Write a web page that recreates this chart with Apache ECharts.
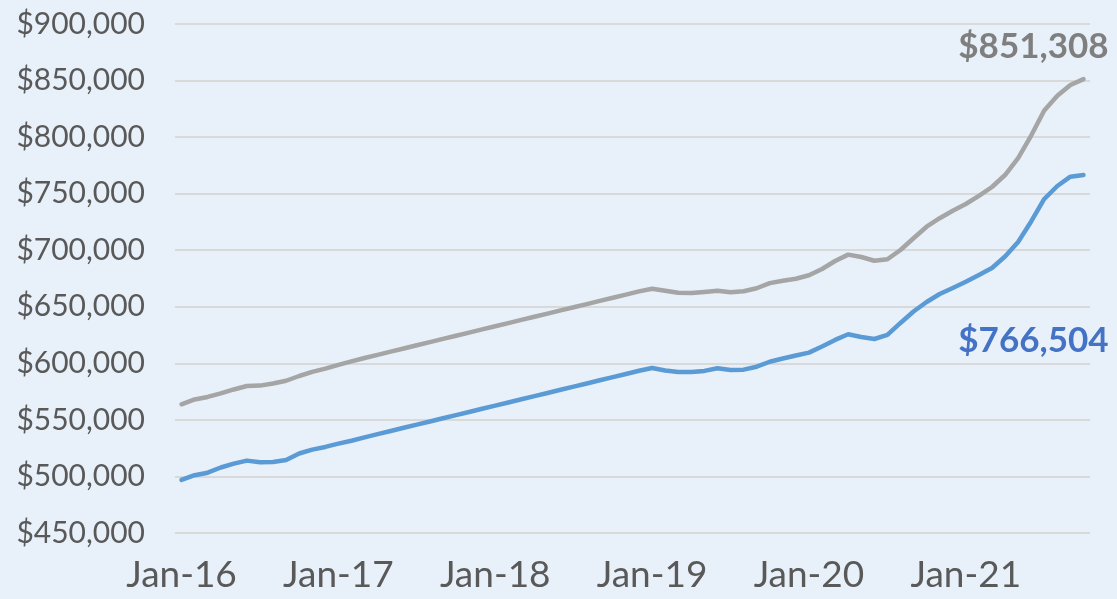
<!DOCTYPE html>
<html>
<head>
<meta charset="utf-8">
<title>Median price trend</title>
<script src="https://cdn.jsdelivr.net/npm/echarts@6/dist/echarts.min.js"></script>
<style>
  html, body { margin: 0; padding: 0; background: #E8F0F9; }
  #chart { width: 1117px; height: 599px; }
</style>
</head>
<body>
<div id="chart"></div>
<script>
// monthly categories, Jan-16 .. Oct-21
const monthNames = ['Jan', 'Feb', 'Mar', 'Apr', 'May', 'Jun', 'Jul', 'Aug', 'Sep', 'Oct', 'Nov', 'Dec']
const years = ['16', '17', '18', '19', '20', '21']
const lastMonthIndex = 9 // Oct-21

// grey series (upper line)
const greyValues = [
  563800, 568100, 570300, 573400, 576900, 580000, 580300, 582200, 584600, 588800, 592400, 595300,
  598600, 601700, 604700, 607500, 610300, 613100, 616000, 618800, 621600, 624400, 627200, 630000,
  632800, 635600, 638400, 641200, 644000, 646800, 649600, 652400, 655200, 658000, 660800, 663600,
  666000, 664100, 662400, 662200, 663100, 664200, 662800, 663700, 666400, 670900, 673000, 674800,
  677900, 683400, 690500, 696100, 694000, 690700, 692000, 700200, 710600, 720800, 728300, 734900,
  740900, 748000, 755900, 766500, 781500, 801400, 823500, 836500, 846100, 851308
]

// blue series (lower line)
const blueValues = [
  496900, 501100, 503300, 507900, 511300, 514000, 512500, 512800, 514600, 520300, 523700, 526100,
  529000, 531600, 534600, 537400, 540200, 543000, 545800, 548600, 551400, 554200, 557000, 559800,
  562600, 565400, 568200, 571000, 573800, 576600, 579400, 582200, 585000, 587800, 590600, 593400,
  595900, 593700, 592400, 592300, 593300, 595600, 594100, 594400, 597000, 601400, 604300, 606900,
  609500, 614900, 620700, 625700, 623300, 621500, 625100, 635700, 645800, 654200, 661300, 666600,
  672100, 678100, 684300, 694500, 707300, 725400, 745300, 756800, 765000, 766504
]

const categories = []
years.forEach((y, yi) => {
  monthNames.forEach((m, mi) => {
    if (yi === years.length - 1 && mi > lastMonthIndex) return
    categories.push(m + '-' + y)
  })
})

const fontFamily = 'Lato, "Open Sans", sans-serif'
const money = v => '$' + v.toLocaleString('en-US')

// put the value label only on the last point of a series
function withEndLabel(values, color, offset) {
  return values.map((v, i) => {
    if (i !== values.length - 1) return v
    return {
      value: v,
      label: {
        show: true,
        position: 'inside',
        offset: offset,
        formatter: p => money(p.value),
        color: color,
        fontFamily: fontFamily,
        fontWeight: 'bold',
        fontSize: 35
      }
    }
  })
}

const chart = echarts.init(document.getElementById('chart'))

const option = {
  backgroundColor: '#E8F0F9',
  animation: false,
  grid: {
    left: 175,
    right: 27,
    top: 24,
    bottom: 66
  },
  xAxis: {
    type: 'category',
    data: categories,
    boundaryGap: true,
    axisLine: { show: false },
    axisTick: { show: false },
    splitLine: { show: false },
    axisLabel: {
      interval: (index) => index % 12 === 0,
      hideOverlap: false,
      margin: 24,
      color: '#595959',
      fontFamily: fontFamily,
      fontSize: 37
    }
  },
  yAxis: {
    type: 'value',
    min: 450000,
    max: 900000,
    interval: 50000,
    axisLine: { show: false },
    axisTick: { show: false },
    splitLine: {
      lineStyle: { color: '#D9D9D9', width: 2 }
    },
    axisLabel: {
      margin: 30,
      color: '#595959',
      fontFamily: fontFamily,
      fontSize: 30,
      formatter: v => money(v)
    }
  },
  series: [
    {
      name: 'Grey',
      type: 'line',
      data: withEndLabel(greyValues, '#7F7F7F', [-50, -32]),
      symbol: 'circle',
      symbolSize: 0,
      showSymbol: true,
      lineStyle: { color: '#A5A5A5', width: 4.5, cap: 'round', join: 'round' },
      itemStyle: { color: '#A5A5A5' }
    },
    {
      name: 'Blue',
      type: 'line',
      data: withEndLabel(blueValues, '#4472C4', [-50, 166]),
      symbol: 'circle',
      symbolSize: 0,
      showSymbol: true,
      lineStyle: { color: '#5B9BD5', width: 4.5, cap: 'round', join: 'round' },
      itemStyle: { color: '#5B9BD5' }
    }
  ]
}

chart.setOption(option)

window.addEventListener('resize', () => {
  chart.resize()
})
</script>
</body>
</html>
